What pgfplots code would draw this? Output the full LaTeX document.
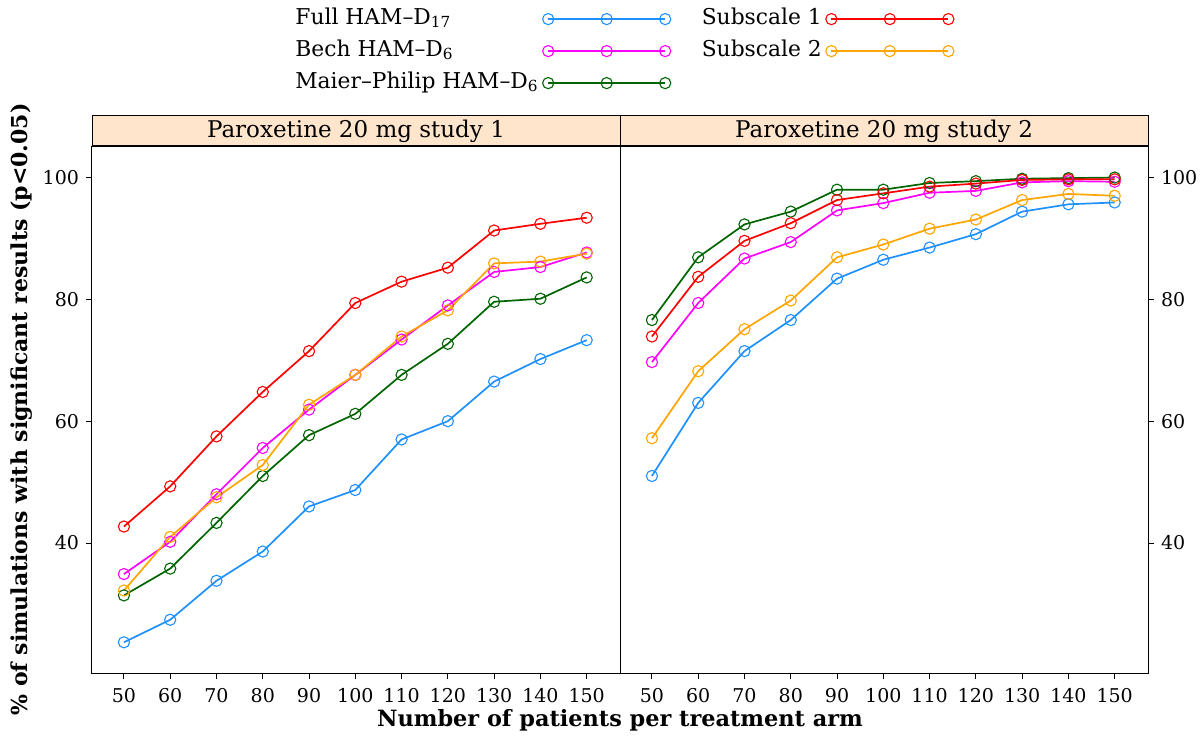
\documentclass[border=0pt]{standalone}
\usepackage{pgfplots}
\usepackage{pgfplotstable}
\pgfplotsset{compat=1.18}
\usepackage{fontspec}
\setmainfont{DejaVu Serif}
\definecolor{cBlue}{HTML}{1E90FF}
\definecolor{cMag}{HTML}{FF00FF}
\definecolor{cGreen}{HTML}{006400}
\definecolor{cRed}{HTML}{FF0000}
\definecolor{cOrange}{HTML}{FFA500}
\definecolor{stripcol}{HTML}{FFE5CC}

\pgfplotstableread{
x full bech maier sub1 sub2
50 23.7 34.9 31.4 42.7 32.2
60 27.4 40.2 35.8 49.3 41.0
70 33.8 48.0 43.3 57.5 47.5
80 38.6 55.6 51.0 64.8 52.8
90 46.0 61.9 57.7 71.5 62.7
100 48.7 67.6 61.2 79.4 67.6
110 57.0 73.4 67.6 82.9 73.9
120 60.0 79.0 72.7 85.2 78.2
130 66.5 84.5 79.6 91.3 85.9
140 70.2 85.3 80.1 92.4 86.2
150 73.3 87.7 83.6 93.4 87.5
}\studyA

\pgfplotstableread{
x full bech maier sub1 sub2
50 51.0 69.7 76.6 73.9 57.2
60 63.0 79.4 86.9 83.7 68.2
70 71.5 86.7 92.3 89.6 75.1
80 76.6 89.4 94.4 92.5 79.8
90 83.4 94.6 98.0 96.3 86.9
100 86.5 95.8 98.0 97.4 89.0
110 88.5 97.5 99.1 98.5 91.6
120 90.7 97.8 99.4 99.0 93.1
130 94.4 99.2 99.8 99.6 96.3
140 95.6 99.4 99.9 99.7 97.3
150 95.9 99.3 100.0 99.7 97.0
}\studyB

\pgfplotsset{
  panel/.style={
    scale only axis, width=264pt, height=263.5pt,
    xmin=43.1, xmax=157.2, ymin=18.66, ymax=105.17,
    xtick={50,60,...,150}, ytick={40,60,80,100},
    tick align=outside, major tick length=3pt,
    xtick pos=bottom,
    tick style={black, line width=0.5pt},
    axis line style={line width=0.5pt},
    every tick label/.append style={font=\fontsize{9.5}{11}\selectfont},
    /pgf/number format/assume math mode=true,
    xticklabel style={yshift=-1pt},
    every axis plot/.append style={line width=0.85pt, mark=o, mark size=2.8pt, mark options={line width=0.55pt}},
  },
  pFull/.style={cBlue}, pBech/.style={cMag}, pMaier/.style={cGreen},
  pSub1/.style={cRed}, pSub2/.style={cOrange},
  legimg/.style={line width=1.3pt, mark=o, mark size=2.8pt, mark options={line width=0.55pt}},
}

\begin{document}
\begin{tikzpicture}
\path[use as bounding box] (0,0) rectangle (600pt,367.5pt);

\begin{axis}[panel, at={(46pt,31pt)}, anchor=south west,
  ytick pos=left,
  ylabel={\bfseries \% of simulations with significant results (p<0.05)},
  ylabel style={at={(rel axis cs:-0.1326,0.5)}, anchor=center, font=\fontsize{11}{13}\selectfont},
  legend columns=2,
  legend plot pos=right,
  legend cell align=left,
  legend style={at={(rel axis cs:0.3845,1.2634)}, anchor=north west, draw=none, fill=none,
    inner sep=0pt, font=\fontsize{10.9}{13}\selectfont, row sep=4.5pt,
    nodes={inner sep=0pt, text height=8.3pt, text depth=3.2pt},
    /tikz/column 1/.style={column sep=2pt},
    /tikz/column 2/.style={column sep=15.5pt},
    /tikz/column 3/.style={column sep=2pt}},
  legend image code/.code={\draw[#1] plot coordinates {(0pt,0pt) (29.25pt,0pt) (58.5pt,0pt)};},
]
\addlegendimage{pFull, legimg}
\addlegendentry{Full HAM–D\textsubscript{17}}
\addlegendimage{pSub1, legimg}
\addlegendentry{Subscale 1}
\addlegendimage{pBech, legimg}
\addlegendentry{Bech HAM–D\textsubscript{6}}
\addlegendimage{pSub2, legimg}
\addlegendentry{Subscale 2}
\addlegendimage{pMaier, legimg}
\addlegendentry{Maier–Philip HAM–D\textsubscript{6}}
\addplot[pFull, forget plot] table[x=x, y=full] {\studyA};
\addplot[pBech, forget plot] table[x=x, y=bech] {\studyA};
\addplot[pMaier, forget plot] table[x=x, y=maier] {\studyA};
\addplot[pSub1, forget plot] table[x=x, y=sub1] {\studyA};
\addplot[pSub2, forget plot] table[x=x, y=sub2] {\studyA};
\end{axis}

\begin{axis}[panel, at={(310pt,31pt)}, anchor=south west,
  ytick pos=right,
]
\addplot[pFull] table[x=x, y=full] {\studyB};
\addplot[pBech] table[x=x, y=bech] {\studyB};
\addplot[pMaier] table[x=x, y=maier] {\studyB};
\addplot[pSub1] table[x=x, y=sub1] {\studyB};
\addplot[pSub2] table[x=x, y=sub2] {\studyB};
\end{axis}

\draw[fill=stripcol, line width=0.5pt] (46pt,294.5pt) rectangle (310pt,309.5pt);
\draw[fill=stripcol, line width=0.5pt] (310pt,294.5pt) rectangle (574pt,309.5pt);
\node[font=\fontsize{11.5}{13}\selectfont] at (178pt,302pt) {Paroxetine 20 mg study 1};
\node[font=\fontsize{11.5}{13}\selectfont] at (442pt,302pt) {Paroxetine 20 mg study 2};
\node[font=\fontsize{11.2}{13}\selectfont\bfseries] at (310pt,7.5pt) {Number of patients per treatment arm};
\end{tikzpicture}
\end{document}
